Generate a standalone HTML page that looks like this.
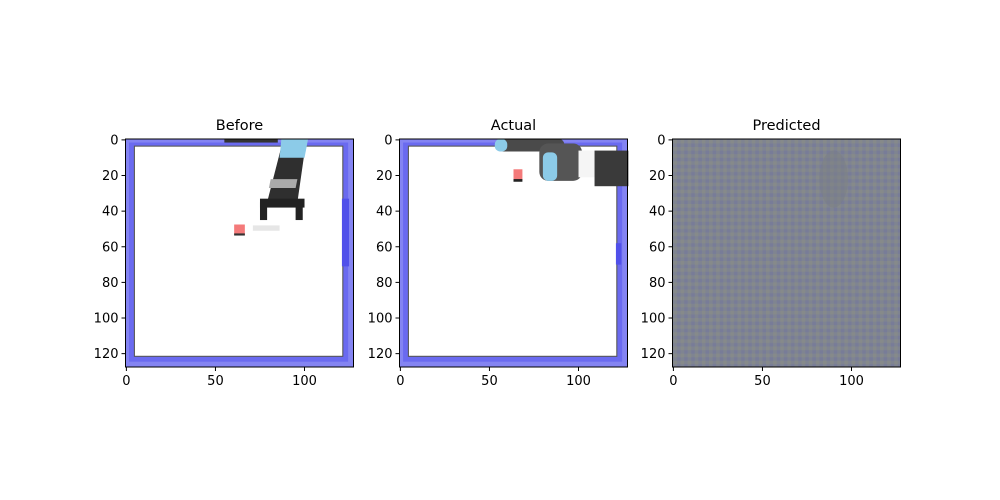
<!DOCTYPE html>
<html><head><meta charset="utf-8"><style>
body{margin:0;background:#fff;}
svg{display:block;font-family:"DejaVu Sans","Liberation Sans",sans-serif;}
</style></head><body>
<svg id="fig" width="1000" height="500" viewBox="0 0 1000 500">
<defs>
<pattern id="noise" width="4" height="4" patternUnits="userSpaceOnUse">
<rect width="4" height="4" fill="#7f8491"/>
<rect x="0" y="0" width="2" height="2" fill="#868a8a"/>
<rect x="2" y="2" width="2" height="2" fill="#787c98"/>
</pattern>
</defs>
</svg>
<script>
const titles = ["Before", "Actual", "Predicted"];
const xTicks = [0, 50, 100];
const yTicks = [0, 20, 40, 60, 80, 100, 120];
const lefts = [125.5, 399.5, 672.5];
const imgSize = 128;
const top0 = 139, axW = 228, axH = 228;
const s = axW / imgSize;
const svg = document.getElementById('fig');
const NS = 'http://www.w3.org/2000/svg';
function mk(tag, attrs, parent){const e=document.createElementNS(NS,tag);for(const k in attrs)e.setAttribute(k,attrs[k]);parent.appendChild(e);return e;}
function X(i,v){return lefts[i] + (v+0.5)*s;}
function Y(v){return top0 + (v+0.5)*s;}

function frameImg(g){
  mk('rect',{x:-0.5,y:-0.5,width:128,height:128,fill:'#8484f2'},g);
  mk('rect',{x:1.5,y:1.5,width:123,height:123,fill:'#6a6af0'},g);
  mk('rect',{x:4.5,y:3.5,width:117,height:118,fill:'#ffffff',stroke:'#555',"stroke-width":0.6},g);
}
function panel0(g){
  frameImg(g);
  mk('rect',{x:55,y:-0.5,width:30,height:2,fill:'#333'},g);
  mk('polygon',{points:'88,0 101,0 96,35 79,35',fill:'#2f2f2f'},g);
  mk('polygon',{points:'87,-0.5 102,-0.5 100,10 86,10',fill:'#8ccbe8'},g);
  mk('polygon',{points:'81,22 96,22 95,27 80,27',fill:'#aaa'},g);
  mk('rect',{x:75,y:33,width:25,height:5,fill:'#222'},g);
  mk('rect',{x:75,y:35,width:4,height:10,fill:'#222'},g);
  mk('rect',{x:95,y:35,width:4,height:10,fill:'#222'},g);
  mk('rect',{x:71,y:48,width:15,height:3,fill:'#e6e6e6'},g);
  mk('rect',{x:60.5,y:47.5,width:6,height:6,fill:'#f47a7a'},g);
  mk('rect',{x:60.5,y:52.5,width:6,height:1.2,fill:'#333'},g);
  mk('rect',{x:121,y:33,width:4,height:38,fill:'#5050ea'},g);
}
function panel1(g){
  frameImg(g);
  mk('rect',{x:54,y:-0.5,width:38,height:7,rx:3,fill:'#4a4a4a'},g);
  mk('rect',{x:53,y:-0.5,width:7,height:7,rx:3,fill:'#8ccbe8'},g);
  mk('rect',{x:78,y:2,width:24,height:21,rx:5,fill:'#555'},g);
  mk('rect',{x:80,y:7,width:8,height:16,rx:3,fill:'#8ccbe8'},g);
  mk('rect',{x:100,y:6,width:10,height:15,fill:'#f5f5f5'},g);
  mk('rect',{x:109,y:6,width:19,height:20,fill:'#3a3a3a'},g);
  mk('rect',{x:63.5,y:16.5,width:5,height:6,fill:'#f47a7a'},g);
  mk('rect',{x:63.5,y:22,width:5,height:1.5,fill:'#222'},g);
  mk('rect',{x:121,y:58,width:3,height:12,fill:'#5050ea'},g);
}
function panel2(g){
  mk('rect',{x:-0.5,y:-0.5,width:128,height:128,fill:'url(#noise)'},g);
  mk('ellipse',{cx:90,cy:22,rx:8,ry:16,fill:'#7a7e86',opacity:0.5},g);
}
const panels=[panel0,panel1,panel2];
for(let i=0;i<3;i++){
  const ax=mk('g',{},svg);
  
  
  const img=mk('g',{transform:`translate(${lefts[i]+0.5*s},${top0+0.5*s}) scale(${s})`},ax);
  
  
  panels[i](img);
  const fr=mk('rect',{x:lefts[i],y:top0,width:axW,height:axH,fill:'none',stroke:'#000','stroke-width':1},ax);
  
  
  const t=mk('text',{x:lefts[i]+axW/2,y:top0-9,'text-anchor':'middle','font-size':14.5},ax);
  t.textContent=titles[i];
  
  
  xTicks.forEach(v=>{
    const x=X(i,v);
    const l=mk('line',{x1:x,x2:x,y1:top0+axH,y2:top0+axH+4,stroke:'#000'},ax);
    
    
    const tt=mk('text',{x:x,y:top0+axH+18,'text-anchor':'middle','font-size':13},ax);
    tt.textContent=v;
    
    
  });
  yTicks.forEach(v=>{
    const y=Y(v);
    const l=mk('line',{x1:lefts[i]-4,x2:lefts[i],y1:y,y2:y,stroke:'#000'},ax);
    
    
    const tt=mk('text',{x:lefts[i]-7,y:y+4.5,'text-anchor':'end','font-size':13},ax);
    tt.textContent=v;
    
    
  });
}
</script>
</body></html>
